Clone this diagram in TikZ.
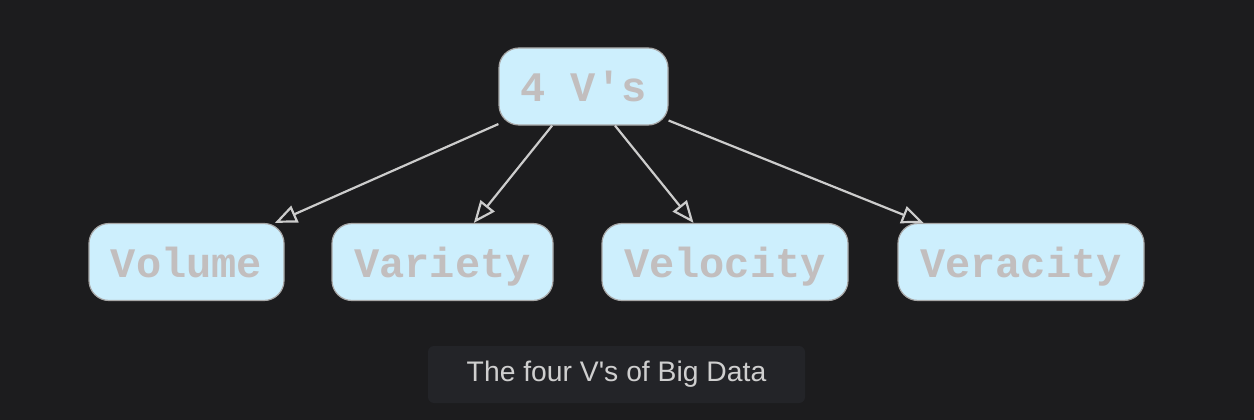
\documentclass[tikz,border=0pt]{standalone}
\usepackage{fontspec}
\setmainfont{Liberation Sans}
\setmonofont{Liberation Mono}
\usetikzlibrary{arrows.meta,positioning}
\definecolor{bgdark}{HTML}{1C1C1E}
\definecolor{boxfill}{HTML}{CDEFFD}
\definecolor{boxline}{HTML}{A8A8A8}
\definecolor{vtext}{HTML}{C2BEBE}
\definecolor{edgecol}{HTML}{CCCCCC}
\definecolor{capfill}{HTML}{232428}
\definecolor{captext}{HTML}{CFCFCF}

\begin{document}
\begin{tikzpicture}[x=1pt, y=-1pt,
  vbox/.style={draw=boxline, line width=1.2pt, fill=boxfill, rounded corners=20pt,
    minimum height=77pt, inner sep=0pt, text=vtext, text height=30pt, text depth=0pt,
    font=\ttfamily\bfseries\fontsize{42}{42}\selectfont},
  arr/.style={-{Triangle[length=22pt, width=18pt, fill=bgdark]}, line width=2.2pt, draw=edgecol}
]
  \fill[bgdark] (0,0) rectangle (1254,420);
  \useasboundingbox (0,0) rectangle (1254,420);
  % top node and the four children
  \node[vbox, minimum width=169pt] (top) at (583.5,86.5) {4 V's};
  \node[vbox, minimum width=195pt] (volume) at (186.5,262) {Volume};
  \node[vbox, minimum width=221pt] (variety) at (442.5,262) {Variety};
  \node[vbox, minimum width=246pt] (velocity) at (725,262) {Velocity};
  \node[vbox, minimum width=246pt] (veracity) at (1021,262) {Veracity};
  \foreach \c in {volume,variety,velocity,veracity} {\draw[arr] (top) -- (\c);}
  % caption
  \node[fill=capfill, rounded corners=6pt, minimum width=377pt, minimum height=57pt,
    text=captext, font=\fontsize{28.3}{28.3}\selectfont] (caption) at (616.5,374.5)
    {The four V\textquotesingle s of Big Data};
\end{tikzpicture}
\end{document}
